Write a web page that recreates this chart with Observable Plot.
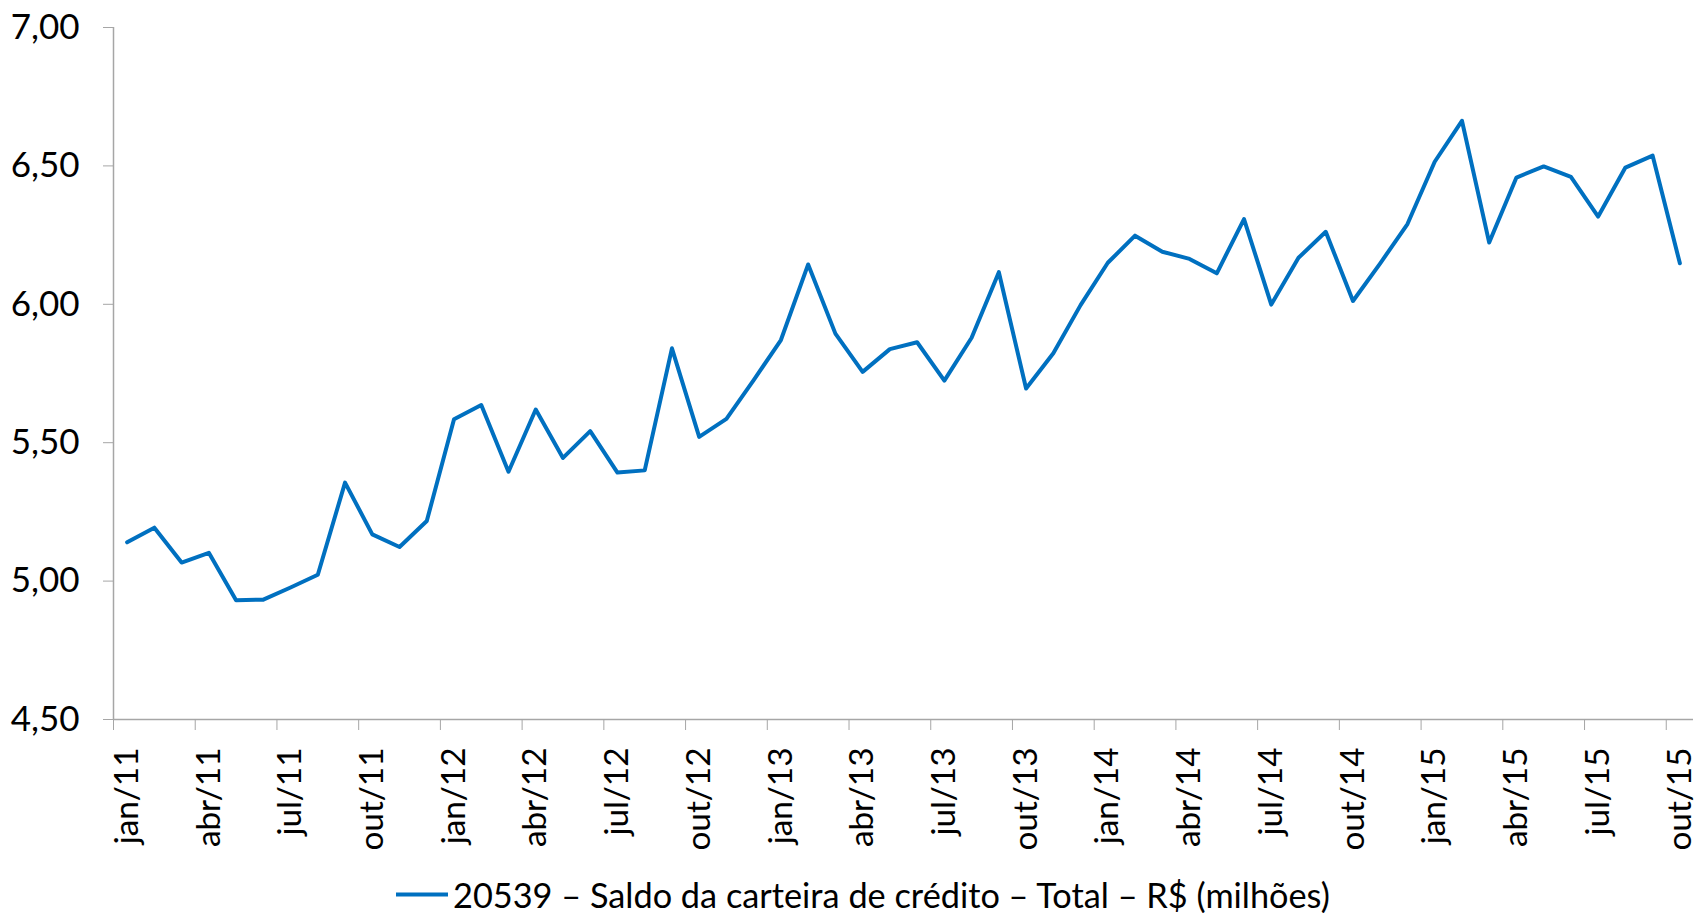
<!DOCTYPE html>
<html>
<head>
<meta charset="utf-8">
<script src="https://cdn.jsdelivr.net/npm/d3@7"></script>
<script src="https://cdn.jsdelivr.net/npm/@observablehq/plot@0.6"></script>
<style>
  html, body { margin: 0; padding: 0; background: #ffffff; }
  body { font-family: Lato, sans-serif; width: 1700px; height: 913px; overflow: hidden; }
  #chart svg { display: block; }
  #legend { position: relative; height: 53px; }
  #legend .item { position: absolute; left: 396px; top: 34px; transform: translateY(-50%);
    display: flex; align-items: center; font-family: Lato, sans-serif; font-size: 34.3px; color: #000; white-space: nowrap; }
  #legend .swatch { width: 52px; height: 4px; background: #0070C0; margin-right: 5px; }
</style>
</head>
<body>
<div id="chart"></div>
<div id="legend"></div>
<script>
// Category labels (monthly, jan/11 .. out/15)
const months = [
  "jan/11","fev/11","mar/11","abr/11","mai/11","jun/11","jul/11","ago/11","set/11","out/11","nov/11","dez/11",
  "jan/12","fev/12","mar/12","abr/12","mai/12","jun/12","jul/12","ago/12","set/12","out/12","nov/12","dez/12",
  "jan/13","fev/13","mar/13","abr/13","mai/13","jun/13","jul/13","ago/13","set/13","out/13","nov/13","dez/13",
  "jan/14","fev/14","mar/14","abr/14","mai/14","jun/14","jul/14","ago/14","set/14","out/14","nov/14","dez/14",
  "jan/15","fev/15","mar/15","abr/15","mai/15","jun/15","jul/15","ago/15","set/15","out/15"
];

// Series values
const values = [
  5.140, 5.193, 5.067, 5.102, 4.931, 4.933, 4.977, 5.023, 5.356, 5.169, 5.123, 5.217,
  5.585, 5.636, 5.395, 5.620, 5.445, 5.542, 5.392, 5.400, 5.841, 5.521, 5.586, 5.726,
  5.871, 6.144, 5.894, 5.756, 5.838, 5.863, 5.724, 5.879, 6.116, 5.696, 5.823, 5.997,
  6.150, 6.248, 6.190, 6.164, 6.112, 6.308, 5.999, 6.168, 6.262, 6.012, 6.148, 6.290,
  6.515, 6.663, 6.223, 6.458, 6.498, 6.460, 6.317, 6.494, 6.537, 6.148
];

// Axis tick labels shown (every third month)
const tickLabels = [
  "jan/11","abr/11","jul/11","out/11","jan/12","abr/12","jul/12","out/12",
  "jan/13","abr/13","jul/13","out/13","jan/14","abr/14","jul/14","out/14",
  "jan/15","abr/15","jul/15","out/15"
];
const yTicks = [4.5, 5.0, 5.5, 6.0, 6.5, 7.0];

const seriesName = "20539 – Saldo da carteira de crédito – Total – R$ (milhões)";

// Build table
const data = months.map((m, i) => ({ month: m, idx: i, value: values[i] }));
const labelIdx = tickLabels.map(l => months.indexOf(l));
const boundaryTicks = labelIdx;                 // category boundaries (left edge)
const centerTicks = labelIdx.map(i => i + 0.5); // category centers

const axisColor = "#A6A6A6";

const chart = Plot.plot({
  width: 1700,
  height: 860,
  marginLeft: 113,
  marginRight: 7,
  marginTop: 27,
  marginBottom: 141,
  style: { fontFamily: "Lato, sans-serif", fontSize: "35px", background: "#ffffff", color: "#000000" },
  x: { type: "linear", domain: [0, months.length], axis: null },
  y: { domain: [4.5, 7.0], axis: null },
  marks: [
    Plot.ruleX([0], { stroke: axisColor, strokeWidth: 1.5 }),
    Plot.ruleY([4.5], { stroke: axisColor, strokeWidth: 1.5 }),
    Plot.axisY({
      ticks: yTicks,
      label: null,
      tickSize: 10,
      tickPadding: 24,
      stroke: axisColor,
      fill: "#000000",
      fontSize: 35,
      tickFormat: d => d.toFixed(2).replace(".", ",")
    }),
    Plot.axisX({
      ticks: boundaryTicks,
      label: null,
      tickSize: 11,
      stroke: axisColor,
      tickFormat: () => ""
    }),
    Plot.axisX({
      ticks: centerTicks,
      label: null,
      tickSize: 0,
      tickPadding: 28,
      tickRotate: -90,
      fill: "#000000",
      fontSize: 33.3,
      tickFormat: d => months[Math.floor(d)]
    }),
    Plot.lineY(data, {
      x: d => d.idx + 0.5,
      y: "value",
      stroke: "#0070C0",
      strokeWidth: 4,
      strokeLinejoin: "round",
      strokeLinecap: "round"
    })
  ]
});
document.getElementById("chart").appendChild(chart);

const legend = document.getElementById("legend");
const item = document.createElement("div");
item.className = "item";
const sw = document.createElement("span");
sw.className = "swatch";
const txt = document.createElement("span");
txt.textContent = seriesName;
item.appendChild(sw);
item.appendChild(txt);
legend.appendChild(item);
</script>
</body>
</html>
